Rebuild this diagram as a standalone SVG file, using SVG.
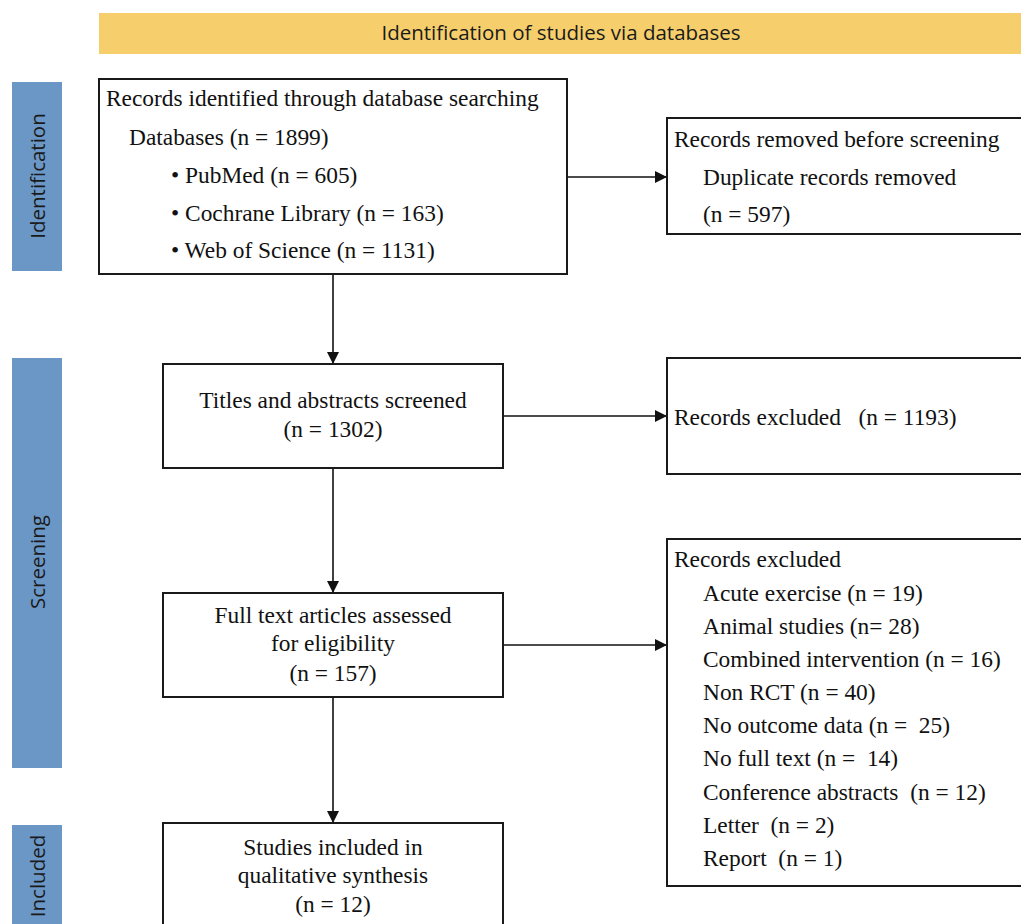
<svg xmlns="http://www.w3.org/2000/svg" width="1021" height="924" viewBox="0 0 1021 924">
<style>
.box{fill:#fff;stroke:#1a1a1a;stroke-width:2}
.t{font-family:"Liberation Serif","Times New Roman",serif;font-size:23.4px;fill:#111;white-space:pre}
.c{text-anchor:middle}
.side{fill:#6b97c6}
.sl{font-family:"Open Sans","Liberation Sans",sans-serif;font-size:20.5px;fill:#1a1a1a;text-anchor:middle}
.conn{stroke:#111;stroke-width:1.6;fill:none;marker-end:url(#ah)}
</style>
<defs>
<marker id="ah" markerUnits="userSpaceOnUse" markerWidth="12" markerHeight="12" refX="12" refY="6" orient="auto">
<path d="M0,0 L12,6 L0,12 z" fill="#111"/>
</marker>
</defs>
<rect width="1021" height="924" fill="#fff"/>
<g id="banner">
<rect x="99" y="13" width="925" height="41" fill="#f6cf6c"/>
<text class="sl" x="561" y="40">Identification of studies via databases</text>
</g>
<g id="phase-identification">
<rect class="side" x="12" y="82" width="50" height="189"/>
<text class="sl" transform="translate(45,176) rotate(-90)">Identification</text>
</g>
<g id="phase-screening">
<rect class="side" x="12" y="358" width="50" height="410"/>
<text class="sl" transform="translate(45,562) rotate(-90)">Screening</text>
</g>
<g id="phase-included">
<rect class="side" x="12" y="825" width="50" height="105"/>
<text class="sl" transform="translate(45,876) rotate(-90)">Included</text>
</g>
<g id="connectors">
<line class="conn" x1="567" y1="177" x2="667" y2="177"/>
<line class="conn" x1="333" y1="274" x2="333" y2="364"/>
<line class="conn" x1="503" y1="416" x2="667" y2="416"/>
<line class="conn" x1="333" y1="468" x2="333" y2="593"/>
<line class="conn" x1="503" y1="645" x2="667" y2="645"/>
<line class="conn" x1="333" y1="697" x2="333" y2="823"/>
</g>
<g id="records-identified">
<rect class="box" x="99" y="79" width="468" height="195"/>
<text class="t" x="106" y="106">Records identified through database searching</text>
<text class="t" x="129" y="145">Databases (n = 1899)</text>
<text class="t" x="171" y="183">• PubMed (n = 605)</text>
<text class="t" x="171" y="221">• Cochrane Library (n = 163)</text>
<text class="t" x="171" y="258">• Web of Science (n = 1131)</text>
</g>
<g id="records-removed">
<rect class="box" x="667" y="118" width="370" height="116"/>
<text class="t" x="674" y="147">Records removed before screening</text>
<text class="t" x="703" y="185">Duplicate records removed</text>
<text class="t" x="703" y="222">(n = 597)</text>
</g>
<g id="titles-screened">
<rect class="box" x="163" y="364" width="340" height="104"/>
<text class="t c" x="333" y="408">Titles and abstracts screened</text>
<text class="t c" x="333" y="437">(n = 1302)</text>
</g>
<g id="records-excluded-1">
<rect class="box" x="667" y="358" width="370" height="116"/>
<text class="t" x="674" y="425">Records excluded   (n = 1193)</text>
</g>
<g id="full-text">
<rect class="box" x="163" y="593" width="340" height="104"/>
<text class="t c" x="333" y="623">Full text articles assessed</text>
<text class="t c" x="333" y="651">for eligibility</text>
<text class="t c" x="333" y="681">(n = 157)</text>
</g>
<g id="records-excluded-2">
<rect class="box" x="667" y="539" width="370" height="347"/>
<text class="t" x="674" y="567">Records excluded</text>
<text class="t" x="703" y="601">Acute exercise (n = 19)</text>
<text class="t" x="703" y="634">Animal studies (n= 28)</text>
<text class="t" x="703" y="667">Combined intervention (n = 16)</text>
<text class="t" x="703" y="700">Non RCT (n = 40)</text>
<text class="t" x="703" y="733">No outcome data (n =  25)</text>
<text class="t" x="703" y="766">No full text (n =  14)</text>
<text class="t" x="703" y="800">Conference abstracts  (n = 12)</text>
<text class="t" x="703" y="833">Letter  (n = 2)</text>
<text class="t" x="703" y="866">Report  (n = 1)</text>
</g>
<g id="studies-included">
<rect class="box" x="163" y="823" width="340" height="110"/>
<text class="t c" x="333" y="855">Studies included in</text>
<text class="t c" x="333" y="883">qualitative synthesis</text>
<text class="t c" x="333" y="912">(n = 12)</text>
</g>
</svg>
